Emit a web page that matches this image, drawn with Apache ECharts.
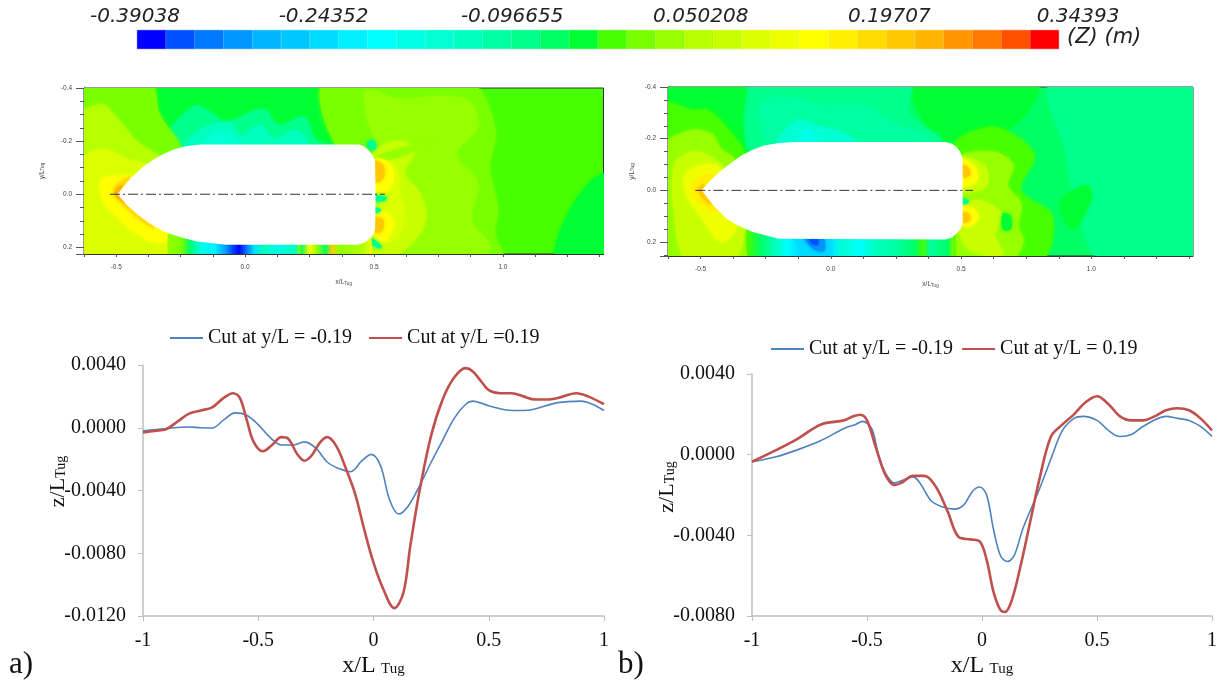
<!DOCTYPE html>
<html><head><meta charset="utf-8">
<style>html,body{margin:0;padding:0;background:#fff}#c{width:1223px;height:684px}</style>
<script src="https://cdn.jsdelivr.net/npm/echarts@6/dist/echarts.min.js"></script>
</head><body><div id="c"></div>
<script>
// ---------- colour scale ----------
const colorBands=['#0000ff','#0050ff','#0078ff','#0096ff','#00b4ff','#00c8ff','#00dcff','#00f0ff','#00ffff','#00ffe6','#00ffd2','#00ffbe','#00ffa0','#00ff8c','#00ff64','#00ff32','#46ff00','#78ff00','#96ff00','#b4ff00','#c8ff00','#dcff00','#f0ff00','#ffff00','#fff000','#ffdc00','#ffc800','#ffb400','#ff9600','#ff7800','#ff5000','#ff0000'];
const colorTicks=['-0.39038','-0.24352','-0.096655','0.050208','0.19707','0.34393'];

// ---------- line charts: [x/L, z/L] ----------
const aBlue=[[-1,-.0002],[-.9,-.00005],[-.8,.00005],[-.75,0],[-.7,-.00002],[-.65,.0005],[-.6,.00095],[-.55,.0008],[-.5,.0002],[-.45,-.0006],[-.4,-.0011],[-.35,-.0011],[-.3,-.0009],[-.25,-.0013],[-.2,-.0022],[-.15,-.0026],[-.1,-.0028],[-.05,-.0021],[-.01,-.0017],[.03,-.0024],[.07,-.0046],[.11,-.0055],[.15,-.005],[.2,-.0037],[.25,-.0022],[.3,-.0008],[.35,.0006],[.4,.0015],[.43,.0017],[.5,.0014],[.6,.0011],[.65,.0011],[.7,.0012],[.8,.0016],[.9,.0017],[.95,.0015],[1,.0011]];
const aRed=[[-1,-.0003],[-.95,-.0002],[-.9,-.0001],[-.85,.0004],[-.8,.0009],[-.75,.0011],[-.7,.0013],[-.65,.0019],[-.61,.0022],[-.58,.0019],[-.55,.0005],[-.52,-.0009],[-.48,-.0015],[-.44,-.0011],[-.4,-.0006],[-.37,-.0007],[-.33,-.0017],[-.3,-.0021],[-.27,-.0018],[-.23,-.0009],[-.2,-.0006],[-.16,-.0012],[-.12,-.0026],[-.08,-.0042],[-.04,-.0065],[0,-.0086],[.04,-.0102],[.09,-.0115],[.13,-.0105],[.16,-.0075],[.2,-.004],[.25,-.0005],[.3,.0018],[.35,.0032],[.4,.0038],[.43,.0036],[.47,.0029],[.5,.0024],[.55,.0022],[.6,.0022],[.65,.002],[.7,.0018],[.75,.0018],[.8,.0019],[.88,.0022],[.93,.002],[1,.0015]];
const bBlue=[[-1,-.00035],[-.9,-.00012],[-.8,.00025],[-.7,.0007],[-.6,.0013],[-.55,.0015],[-.52,.00165],[-.48,.0013],[-.45,0],[-.42,-.0009],[-.38,-.0014],[-.35,-.0013],[-.3,-.0011],[-.27,-.0014],[-.22,-.0023],[-.17,-.0026],[-.12,-.0027],[-.08,-.0025],[-.04,-.0018],[-.01,-.0016],[.02,-.002],[.05,-.0037],[.08,-.005],[.11,-.0053],[.14,-.005],[.18,-.0036],[.25,-.0017],[.3,-.0002],[.35,.0012],[.4,.0018],[.44,.0019],[.5,.0017],[.55,.0012],[.6,.0009],[.65,.001],[.7,.0014],[.8,.0019],[.85,.0018],[.9,.0017],[.95,.0014],[1,.0009]];
const bRed=[[-1,-.00035],[-.9,.0002],[-.8,.0008],[-.7,.0015],[-.6,.0017],[-.56,.0019],[-.53,.00198],[-.5,.0017],[-.46,.0003],[-.42,-.001],[-.38,-.0015],[-.35,-.0014],[-.3,-.00105],[-.25,-.00105],[-.2,-.0016],[-.15,-.0028],[-.1,-.0041],[-.05,-.0042],[-.01,-.0043],[.02,-.0052],[.05,-.0068],[.08,-.0077],[.1,-.0078],[.13,-.0072],[.17,-.0054],[.21,-.0033],[.25,-.0012],[.3,.0009],[.35,.0015],[.4,.002],[.45,.0026],[.5,.0029],[.55,.0025],[.6,.0019],[.65,.0017],[.7,.0017],[.75,.0019],[.8,.0022],[.85,.0023],[.9,.0022],[.95,.0018],[1,.0012]];

// ---------- contour maps: hull outlines in x/L, y/L ----------
const hullA=[[-.495,0],[-.47,-.03],[-.445,-.06],[-.4,-.1],[-.359,-.129],[-.315,-.152],[-.273,-.17],[-.225,-.182],[-.173,-.1875],[.442,-.1875],[.462,-.18],[.478,-.166],[.494,-.148],[.504,-.125],[.506,0],[.504,.134],[.495,.155],[.478,.171],[.46,.184],[.435,.19],[-.073,.19],[-.187,.1775],[-.25,.162],[-.316,.14],[-.37,.11],[-.416,.0775],[-.46,.04]];
const hullB=[[-.496,0],[-.46,-.04],[-.428,-.071],[-.385,-.105],[-.343,-.135],[-.3,-.157],[-.257,-.174],[-.2,-.183],[-.144,-.187],[.44,-.187],[.465,-.18],[.482,-.168],[.497,-.148],[.506,-.123],[.506,.129],[.497,.15],[.482,.168],[.465,.182],[.44,.19],[-.2,.187],[-.3,.161],[-.355,.137],[-.4,.11],[-.45,.06]];
const centerA=[[-.524,0],[.542,0]];
const centerB=[[-.52,0],[.546,0]];

// ---------- contour maps: filled regions [colour band, outline in x/L, y/L], painted in order ----------
const zonesA=[
[15,[[-.37,-.42],[.31,-.42],[.31,-.3],[.45,-.2],[-.3,-.15],[-.37,-.3]]],
[13,[[-.33,-.17],[-.2,-.33],[-.12,-.3],[-.08,-.27],[.07,-.32],[.13,-.26],[.23,-.29],[.28,-.2],[.42,-.17],[-.2,-.15]]],
[11,[[-.23,-.18],[-.16,-.25],[-.06,-.27],[-.02,-.22],[.06,-.26],[.11,-.21],[.2,-.24],[.24,-.18]]],
[10,[[-.16,-.18],[-.1,-.24],[-.03,-.2],[-.02,-.18]]],
[17,[[-.66,-.42],[-.37,-.42],[-.33,-.3],[-.25,-.18],[-.2,0],[-.1,.26],[-.66,.26]]],
[19,[[-.66,-.27],[-.56,-.34],[-.49,-.28],[-.42,-.2],[-.33,-.14],[-.2,0],[-.2,.26],[-.66,.26]]],
[21,[[-.66,-.1],[-.56,-.17],[-.45,-.13],[-.35,-.1],[-.3,0],[-.27,.14],[-.25,.26],[-.5,.26],[-.66,.2]]],
[23,[[-.56,-.05],[-.5,-.07],[-.42,-.06],[-.4,0],[-.33,.1],[-.29,.16],[-.33,.185],[-.42,.15],[-.5,.08],[-.55,.03]]],
[25,[[-.51,-.02],[-.49,-.04],[-.455,-.065],[-.44,-.06],[-.47,0],[-.4,.08],[-.35,.13],[-.42,.09],[-.5,.01]]],
[27,[[-.505,-.01],[-.49,-.03],[-.475,-.035],[-.485,0],[-.45,.04],[-.46,.04],[-.505,.005]]],
[17,[[.31,-.42],[.87,-.42],[.97,-.25],[.95,-.1],[.98,.05],[.97,.15],[1,.26],[.38,.26],[.38,-.1],[.3,-.3]]],
[18,[[.47,-.39],[.6,-.36],[.75,-.37],[.87,-.35],[.9,-.25],[.82,-.15],[.9,-.05],[.88,.1],[.95,.2],[.85,.26],[.5,.26],[.5,-.2],[.47,-.3]]],
[20,[[.49,-.14],[.58,-.2],[.66,-.17],[.62,-.08],[.68,0],[.7,.1],[.64,.19],[.56,.24],[.49,.22]]],
[21,[[.49,-.13],[.55,-.15],[.59,-.09],[.6,0],[.62,.06],[.59,.16],[.49,.19]]],
[18,[[.5,-.14],[.72,-.2],[.73,-.19],[.52,-.12]]],
[23,[[.5,-.13],[.55,-.125],[.575,-.08],[.56,-.02],[.5,-.015]]],
[23,[[.5,.07],[.55,.07],[.575,.11],[.55,.17],[.52,.18],[.5,.15]]],
[26,[[.5,-.125],[.535,-.11],[.54,-.07],[.52,-.045],[.5,-.05]]],
[26,[[.5,.09],[.535,.095],[.535,.135],[.515,.145],[.5,.14]]],
[13,[[.5,.005],[.55,.012],[.54,.025],[.5,.025]]],
[13,[[.5,.05],[.525,.055],[.525,.065],[.5,.07]]],
[13,[[.48,.16],[.53,.195],[.52,.205],[.48,.18]]],
[13,[[.47,-.19],[.495,-.205],[.51,-.18],[.49,-.165]]],
[15,[[1.215,.26],[1.22,.14],[1.34,-.05],[1.42,-.07],[1.42,.26]]]
];
const stripA=[[-.3,18],[-.245,17],[-.216,14],[-.173,9],[-.116,7],[-.073,3],[-.052,1],[-.023,0],[.006,2],[.034,6],[.07,11],[.127,9],[.199,11],[.21,18],[.22,14],[.249,23],[.278,18],[.313,14],[.335,26],[.363,18],[.385,18],[.46,19],[.49,22]];
const blobsA=[];
const zonesB=[
[15,[[.31,-.42],[.79,-.42],[.75,-.3],[.65,-.22],[.5,-.2],[.42,-.19],[.35,-.28]]],
[13,[[.85,-.42],[1.45,-.42],[1.45,.28],[1.05,.28],[.95,.1],[.9,-.15]]],
[15,[[.88,.05],[.98,-.02],[1,.03],[.93,.15]]],
[13,[[-.32,-.42],[.3,-.42],[.3,-.3],[.42,-.19],[-.3,-.15],[-.33,-.3]]],
[12,[[-.27,-.34],[-.15,-.36],[-.03,-.33],[.12,-.33],[.25,-.26],[.38,-.2],[-.22,-.17]]],
[10,[[-.2,-.18],[-.13,-.27],[-.05,-.25],[.05,-.22],[.1,-.18]]],
[9,[[-.13,-.18],[-.09,-.24],[-.05,-.2],[-.04,-.18]]],
[15,[[-.66,-.42],[-.34,-.42],[-.34,-.25],[-.27,.1],[-.27,.28],[-.66,.28]]],
[16,[[-.66,-.33],[-.52,-.31],[-.47,-.31],[-.38,-.22],[-.33,-.14],[-.3,.1],[-.28,.28],[-.66,.28]]],
[18,[[-.66,-.15],[-.55,-.23],[-.46,-.22],[-.42,-.16],[-.37,-.12],[-.33,.1],[-.33,.2],[-.33,.28],[-.66,.28]]],
[20,[[-.6,-.1],[-.52,-.15],[-.42,-.1],[-.36,0],[-.33,.15],[-.38,.28],[-.55,.28],[-.6,.1]]],
[22,[[-.56,-.06],[-.48,-.1],[-.42,-.08],[-.42,0],[-.36,.13],[-.42,.2],[-.5,.1],[-.55,.03]]],
[24,[[-.53,-.03],[-.48,-.06],[-.45,-.06],[-.44,.02],[-.4,.08],[-.46,.08],[-.53,.02]]],
[26,[[-.51,0],[-.49,-.025],[-.48,0],[-.45,.045],[-.47,.05]]],
[16,[[.47,-.17],[.55,-.23],[.65,-.24],[.78,-.14],[.73,0],[.85,.1],[.8,.28],[.47,.28],[.47,.19]]],
[18,[[.49,-.12],[.62,-.15],[.7,-.1],[.68,-.02],[.73,.05],[.72,.14],[.74,.2],[.68,.28],[.5,.28],[.48,.19],[.49,.12]]],
[20,[[.49,-.12],[.55,-.12],[.6,-.08],[.59,-.01],[.49,0]]],
[20,[[.49,.06],[.58,.04],[.66,.1],[.63,.17],[.66,.25],[.52,.22]]],
[23,[[.5,-.12],[.545,-.1],[.565,-.05],[.54,-.02],[.5,-.02]]],
[23,[[.5,.065],[.545,.065],[.565,.11],[.53,.14],[.5,.13]]],
[26,[[.5,-.1],[.53,-.085],[.535,-.06],[.51,-.05]]],
[26,[[.5,.09],[.53,.09],[.535,.115],[.51,.125]]],
[15,[[.66,.09],[.69,.1],[.69,.15],[.66,.15]]],
[13,[[.5,.03],[.53,.04],[.525,.05],[.5,.05]]]
];
const stripB=[[-.32,16],[-.27,14],[-.23,12],[-.17,8],[-.115,6],[-.03,6],[.006,7],[.05,10],[.11,8],[.17,11],[.255,12],[.325,14],[.355,16],[.38,12],[.45,14],[.47,17]];
const blobsB=[
[6,[[-.14,.17],[-.01,.17],[.0,.26],[-.09,.26]]],
[3,[[-.105,.17],[-.035,.17],[-.025,.235],[-.07,.225]]],
[1,[[-.085,.175],[-.055,.175],[-.05,.21],[-.075,.205]]]
];

// ---------- layout ----------
const serif='"Liberation Serif","Times New Roman",serif';
const ink='#111';
function regionSeries(zones,gi,z){
  return {type:'custom',xAxisIndex:gi,yAxisIndex:gi,clip:true,silent:true,z:z,
    data:zones.map(d=>[d[1][0][0],d[1][0][1],d[0]]),
    renderItem:(p,api)=>{const d=zones[p.dataIndex];const c=colorBands[d[0]];
      return {type:'polygon',shape:{points:d[1].map(q=>api.coord(q)),smooth:.35},
        style:{fill:c,shadowBlur:4,shadowColor:c}};}};
}
function stripSeries(strip,gi,top,bottom,z){
  const segs=strip.slice(0,-1).map((s,i)=>[s[0],strip[i+1][0],s[1],strip[i+1][1]]);
  return {type:'custom',xAxisIndex:gi,yAxisIndex:gi,clip:true,silent:true,z:z,
    data:segs.map(s=>[s[0],top,s[2]]),
    renderItem:(p,api)=>{const s=segs[p.dataIndex];
      const a=api.coord([s[0],top]),b=api.coord([s[1],bottom]);
      return {type:'rect',shape:{x:a[0]-.3,y:a[1],width:b[0]-a[0]+.6,height:b[1]-a[1]},
        style:{fill:new echarts.graphic.LinearGradient(0,0,1,0,[{offset:0,color:colorBands[s[2]]},{offset:1,color:colorBands[s[3]]}])}};}};
}
function hullSeries(hull,gi){
  return {type:'custom',xAxisIndex:gi,yAxisIndex:gi,silent:true,z:8,data:[[hull[0][0],hull[0][1]]],
    renderItem:(p,api)=>({type:'polygon',shape:{points:hull.map(q=>api.coord(q))},style:{fill:'#fff'}})};
}
function centerSeries(line,gi){
  return {type:'line',xAxisIndex:gi,yAxisIndex:gi,silent:true,z:9,symbol:'none',data:line,
    lineStyle:{color:'#333',width:1,type:[10,3,2,3]}};
}
function mapX(gi){return {gridIndex:gi,type:'value',min:-.625,max:1.39,interval:.125,splitLine:{show:false},
  axisLine:{onZero:false,lineStyle:{color:'#333'}},axisTick:{length:3,lineStyle:{color:'#555'}},
  axisLabel:{fontSize:6.5,color:'#444',margin:10,showMaxLabel:false,formatter:v=>Math.abs(v*2-Math.round(v*2))<1e-6?v.toFixed(1):''},
  name:'x/L{s|Tug}',nameLocation:'middle',nameGap:25,nameTextStyle:{fontSize:6.5,color:'#444',rich:{s:{fontSize:4.5,color:'#444',verticalAlign:'bottom'}}}};}
function mapY(gi,ymax,gap){return {gridIndex:gi,type:'value',inverse:true,min:-.4,max:ymax,interval:.2,splitLine:{show:false},
  axisLine:{onZero:false,lineStyle:{color:'#333'}},axisTick:{length:8,lineStyle:{color:'#555'}},
  minorTick:{show:true,splitNumber:4,length:4,lineStyle:{color:'#555'}},
  axisLabel:{fontSize:6.5,color:'#444',margin:12,showMaxLabel:false,formatter:v=>Math.abs(v*5-Math.round(v*5))<1e-6?v.toFixed(1).replace('-0.0','0.0'):''},
  name:'y/L{s|Tug}',nameLocation:'middle',nameGap:gap,nameTextStyle:{fontSize:6.5,color:'#444',rich:{s:{fontSize:4.5,color:'#444'}}}};}
function lineX(gi){return {gridIndex:gi,type:'value',min:-1,max:1,interval:.5,splitLine:{show:false},
  axisLine:{onZero:false,lineStyle:{color:'#bfbfbf',width:1.5}},axisTick:{length:5,lineStyle:{color:'#bfbfbf'}},
  axisLabel:{fontFamily:serif,fontSize:20,color:ink,margin:15,formatter:v=>String(v)},
  name:'{m|x/L} {s|Tug}',nameLocation:'middle',nameGap:38,
  nameTextStyle:{rich:{m:{fontFamily:serif,fontSize:24,color:ink},s:{fontFamily:serif,fontSize:15,color:ink,padding:[6,0,0,2]}}}};}
function lineY(gi,min,gap,pad){return {gridIndex:gi,type:'value',min:min,max:.004,interval:.004,splitLine:{show:false},
  axisLine:{onZero:false,lineStyle:{color:'#bfbfbf',width:1.5}},axisTick:{length:5,lineStyle:{color:'#bfbfbf'}},
  axisLabel:{fontFamily:serif,fontSize:20,color:ink,margin:17,formatter:v=>v.toFixed(4)},
  name:'{e| }{m|z/L}{s|Tug}',nameLocation:'middle',nameGap:gap,nameMoveOverlap:false,
  nameTextStyle:{rich:{m:{fontFamily:serif,fontSize:22,color:ink},s:{fontFamily:serif,fontSize:14,color:ink,padding:[0,0,-6,0]},e:{width:pad}}}};}
function cut(name,data,gi,color,w){return {name:name,type:'line',xAxisIndex:gi,yAxisIndex:gi,data:data,smooth:.35,symbol:'none',
  itemStyle:{color:color},lineStyle:{color:color,width:w},z:5};}
const NEG='Cut at y/L = -0.19',POS_A='Cut at y/L =0.19',POS_B='Cut at y/L = 0.19';
const legendBase={icon:'rect',orient:'horizontal',itemWidth:33,itemHeight:2,padding:0,selectedMode:false,
  textStyle:{fontFamily:serif,fontSize:20,color:ink}};

const chart=echarts.init(document.getElementById('c'),null,{renderer:'canvas'});
chart.setOption({
  animation:false,backgroundColor:'#fff',
  legend:[Object.assign({left:170,top:328,itemGap:17,data:[NEG,POS_A]},legendBase),Object.assign({left:771,top:339,itemGap:9,data:[NEG,POS_B]},legendBase)],
  graphic:[
    {type:'text',left:1067,top:27,style:{text:'(Z) (m)',fontFamily:'DejaVu Sans',fontStyle:'italic',fontSize:21,fill:'#222'}},
    {type:'text',left:9,top:649,style:{text:'a)',fontFamily:serif,fontSize:31,fill:ink}},
    {type:'text',left:618,top:649,style:{text:'b)',fontFamily:serif,fontSize:31,fill:ink}}
  ],
  grid:[
    {left:137,top:30,width:922,height:19},
    {left:135,top:30,width:943,height:19},
    {left:84,top:88,width:519.5,height:166,show:true,backgroundColor:colorBands[16],borderColor:'#333',borderWidth:1},
    {left:668,top:87,width:525,height:169,show:true,backgroundColor:colorBands[14],borderColor:'#333',borderWidth:1},
    {left:143,top:365,width:461,height:251},
    {left:752,top:374,width:460,height:242}
  ],
  xAxis:[
    {gridIndex:0,type:'category',data:colorBands.map((c,i)=>i),show:false},
    {gridIndex:1,type:'category',data:colorTicks,boundaryGap:false,position:'top',axisLine:{show:false},axisTick:{show:false},
      axisLabel:{interval:0,margin:3,fontFamily:'DejaVu Sans',fontStyle:'italic',fontSize:20,color:'#222'}},
    mapX(2),mapX(3),lineX(4),lineX(5)
  ],
  yAxis:[
    {gridIndex:0,type:'value',min:0,max:1,show:false},
    {gridIndex:1,type:'value',min:0,max:1,show:false},
    mapY(2,.225,38),mapY(3,.254,32),lineY(4,-.012,74,18),lineY(5,-.008,74,16)
  ],
  series:[
    {type:'bar',xAxisIndex:0,yAxisIndex:0,barWidth:'100%',silent:true,
      data:colorBands.map(c=>({value:1,itemStyle:{color:c,borderColor:c,borderWidth:.5}}))},
    regionSeries(zonesA,2,3),stripSeries(stripA,2,.15,.23,4),regionSeries(blobsA,2,5),hullSeries(hullA,2),centerSeries(centerA,2),
    regionSeries(zonesB,3,3),stripSeries(stripB,3,.15,.26,4),regionSeries(blobsB,3,5),hullSeries(hullB,3),centerSeries(centerB,3),
    cut(NEG,aBlue,4,'#4f81bd',1.6),cut(POS_A,aRed,4,'#c0504d',2.6),
    cut(NEG,bBlue,5,'#4f81bd',1.6),cut(POS_B,bRed,5,'#c0504d',2.6)
  ]
});
</script></body></html>
